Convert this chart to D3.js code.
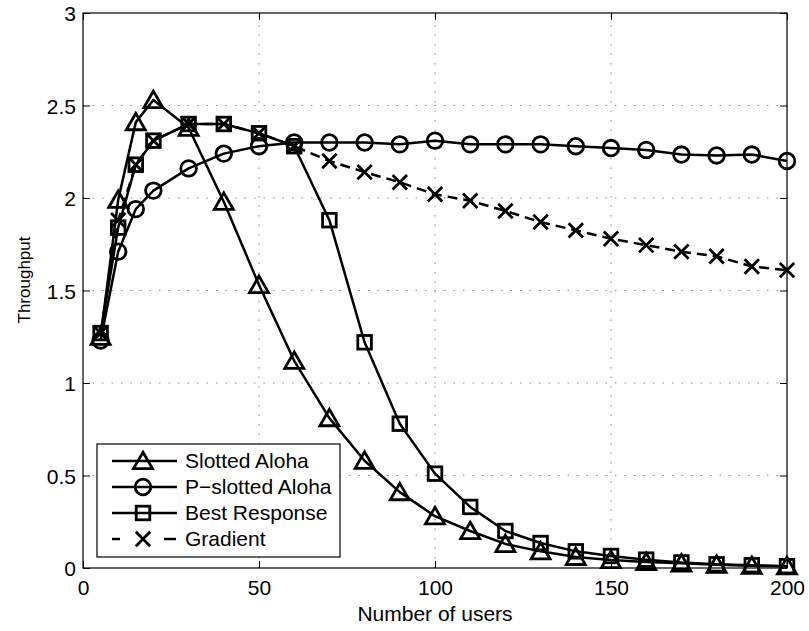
<!DOCTYPE html>
<html>
<head>
<meta charset="utf-8">
<script src="https://cdn.jsdelivr.net/npm/d3@7"></script>
<style>
  html, body { margin: 0; padding: 0; background: #fff; }
  svg { display: block; font-family: "Liberation Sans", Arial, Helvetica, sans-serif; }
</style>
</head>
<body>
<svg id="chart" width="809" height="631"></svg>
<script>
// Number of users at which each scheme was evaluated
const users = [5, 10, 15, 20, 30, 40, 50, 60, 70, 80, 90, 100, 110, 120, 130, 140, 150, 160, 170, 180, 190, 200];

// Throughput per scheme
const slottedAloha  = [1.25, 1.99, 2.41, 2.53, 2.38, 1.98, 1.53, 1.12, 0.81, 0.58, 0.41, 0.28, 0.20, 0.13, 0.09, 0.06, 0.043, 0.033, 0.025, 0.018, 0.012, 0.01];
const pSlottedAloha = [1.23, 1.71, 1.94, 2.04, 2.16, 2.24, 2.28, 2.30, 2.30, 2.30, 2.29, 2.31, 2.29, 2.29, 2.29, 2.28, 2.27, 2.26, 2.235, 2.23, 2.235, 2.20];
const bestResponse  = [1.27, 1.84, 2.18, 2.31, 2.40, 2.40, 2.35, 2.28, 1.88, 1.22, 0.78, 0.51, 0.33, 0.20, 0.135, 0.09, 0.065, 0.045, 0.03, 0.02, 0.015, 0.01];
const gradient      = [1.27, 1.88, 2.18, 2.31, 2.40, 2.40, 2.35, 2.28, 2.20, 2.14, 2.085, 2.02, 1.985, 1.93, 1.87, 1.825, 1.78, 1.745, 1.71, 1.685, 1.63, 1.61];

const seriesNames = ["Slotted Aloha", "P\u2212slotted Aloha", "Best Response", "Gradient"];
const xTicks = [0, 50, 100, 150, 200];
const yTicks = [0, 0.5, 1, 1.5, 2, 2.5, 3];
const xTitle = "Number of users";
const yTitle = "Throughput";

const series = [
  { name: seriesNames[0], values: slottedAloha,  marker: "triangle", dashed: false },
  { name: seriesNames[1], values: pSlottedAloha, marker: "circle",   dashed: false },
  { name: seriesNames[2], values: bestResponse,  marker: "square",   dashed: false },
  { name: seriesNames[3], values: gradient,      marker: "cross",    dashed: true  }
];

const plot = { left: 83, right: 787, top: 13, bottom: 568 };
const svg = d3.select("#chart");

const x = d3.scaleLinear().domain([0, 200]).range([plot.left, plot.right]);
const y = d3.scaleLinear().domain([0, 3]).range([plot.bottom, plot.top]);

const FONT = 21;
const LINE_W = 2.5;
const MARK_W = 2.8;

// dotted grid
const grid = svg.append("g").attr("stroke", "#8a8a8a").attr("stroke-width", 1)
  .attr("stroke-dasharray", "1.5,8");
xTicks.slice(1, -1).forEach(v => {
  grid.append("line").attr("x1", x(v)).attr("x2", x(v))
    .attr("y1", plot.bottom).attr("y2", plot.top);
});
yTicks.slice(1, -1).forEach(v => {
  grid.append("line").attr("y1", y(v)).attr("y2", y(v))
    .attr("x1", plot.left).attr("x2", plot.right);
});

// axes with inward ticks on all four sides
const tickLen = 7;
const bottomAxis = svg.append("g").attr("transform", `translate(0,${plot.bottom})`)
  .call(d3.axisBottom(x).tickValues(xTicks).tickSizeInner(-tickLen).tickSizeOuter(0).tickFormat(d3.format("d")));
const topAxis = svg.append("g").attr("transform", `translate(0,${plot.top})`)
  .call(d3.axisTop(x).tickValues(xTicks).tickSizeInner(-tickLen).tickSizeOuter(0).tickFormat(""));
const leftAxis = svg.append("g").attr("transform", `translate(${plot.left},0)`)
  .call(d3.axisLeft(y).tickValues(yTicks).tickSizeInner(-tickLen).tickSizeOuter(0).tickFormat(d => String(d)));
const rightAxis = svg.append("g").attr("transform", `translate(${plot.right},0)`)
  .call(d3.axisRight(y).tickValues(yTicks).tickSizeInner(-tickLen).tickSizeOuter(0).tickFormat(""));

[bottomAxis, topAxis, leftAxis, rightAxis].forEach(a => {
  a.select(".domain").remove();
  a.selectAll(".tick line").attr("stroke", "#000").attr("stroke-width", 1);
  a.selectAll(".tick text")
    .attr("font-family", "'Liberation Sans', Arial, sans-serif")
    .attr("font-size", FONT).attr("fill", "#000");
});
bottomAxis.selectAll(".tick text").attr("y", 0).attr("dy", 27);
leftAxis.selectAll(".tick text").attr("x", -7).attr("dy", "0.36em");

// frame
svg.append("rect").attr("x", plot.left).attr("y", plot.top)
  .attr("width", plot.right - plot.left).attr("height", plot.bottom - plot.top)
  .attr("fill", "none").attr("stroke", "#000").attr("stroke-width", 1.2);

// axis titles
svg.append("text").attr("x", x(100)).attr("y", 621).attr("text-anchor", "middle")
  .attr("font-size", FONT).text(xTitle);
svg.append("text").attr("transform", "translate(30,280) rotate(-90)")
  .attr("text-anchor", "middle").attr("font-size", 17).text(yTitle);

// marker drawing
function drawMarker(g, kind, cx, cy) {
  const s = g.append("g").attr("transform", `translate(${cx},${cy})`)
    .attr("fill", "none").attr("stroke", "#000").attr("stroke-width", MARK_W);
  if (kind === "circle") {
    s.append("circle").attr("r", 7.8);
  } else if (kind === "square") {
    s.append("rect").attr("x", -6.8).attr("y", -6.8).attr("width", 13.6).attr("height", 13.6);
  } else if (kind === "triangle") {
    s.append("path").attr("d", "M0,-8.8 L9.5,7.6 L-9.5,7.6 Z");
  } else if (kind === "cross") {
    s.append("path").attr("d", "M-7.2,-7.2 L7.2,7.2 M-7.2,7.2 L7.2,-7.2");
  }
}

const line = d3.line().x(d => x(d[0])).y(d => y(d[1]));

series.forEach(s => {
  const pts = users.map((u, i) => [u, s.values[i]]);
  const g = svg.append("g");
  g.append("path").attr("d", line(pts)).attr("fill", "none")
    .attr("stroke", "#000").attr("stroke-width", LINE_W)
    .attr("stroke-linejoin", "round")
    .attr("stroke-dasharray", s.dashed ? "10,6" : null);
  pts.forEach(p => drawMarker(g, s.marker, x(p[0]), y(p[1])));
});

// legend
const lg = svg.append("g");
lg.append("rect").attr("x", 97).attr("y", 444).attr("width", 243).attr("height", 113)
  .attr("fill", "#fff").attr("stroke", "#000").attr("stroke-width", 1.2);
series.forEach((s, i) => {
  const cy = 461 + i * 26;
  if (s.dashed) {
    lg.append("line").attr("x1", 112).attr("x2", 120).attr("y1", cy).attr("y2", cy)
      .attr("stroke", "#000").attr("stroke-width", LINE_W);
    lg.append("line").attr("x1", 164).attr("x2", 176).attr("y1", cy).attr("y2", cy)
      .attr("stroke", "#000").attr("stroke-width", LINE_W);
  } else {
    lg.append("line").attr("x1", 112).attr("x2", 177).attr("y1", cy).attr("y2", cy)
      .attr("stroke", "#000").attr("stroke-width", LINE_W);
  }
  drawMarker(lg, s.marker, 143, cy);
  lg.append("text").attr("x", 185).attr("y", cy).attr("dy", "0.35em")
    .attr("font-size", FONT).text(s.name);
});
</script>
</body>
</html>
